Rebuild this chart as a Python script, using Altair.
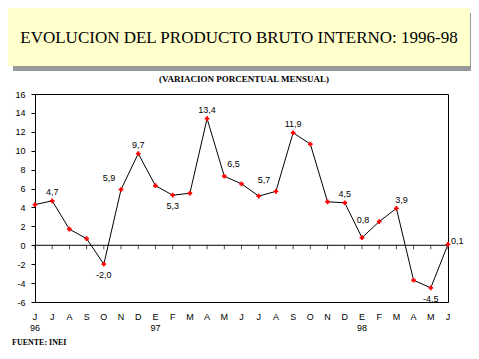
import altair as alt
import pandas as pd

months = ["J", "J", "A", "S", "O", "N", "D", "E", "F", "M", "A", "M", "J",
          "J", "A", "S", "O", "N", "D", "E", "F", "M", "A", "M", "J"]
years = ["96", "", "", "", "", "", "", "97", "", "", "", "", "",
         "", "", "", "", "", "", "98", "", "", "", "", ""]
values = [4.3, 4.7, 1.7, 0.7, -2.0, 5.9, 9.7, 6.3, 5.3, 5.5, 13.4, 7.3, 6.5,
          5.2, 5.7, 11.9, 10.7, 4.6, 4.5, 0.8, 2.5, 3.9, -3.7, -4.5, 0.1]
labels = ["", "4,7", "", "", "-2,0", "5,9", "9,7", "", "5,3", "", "13,4", "", "6,5",
          "", "5,7", "11,9", "", "", "4,5", "0,8", "", "3,9", "", "-4,5", "0,1"]
placement = ["", "above", "", "", "below", "upleft", "above", "", "below", "", "above", "", "upleft_high",
             "", "upleft", "above", "", "", "above", "above_high", "", "aboveright", "", "below", "right"]
y_ticks = [-6, -4, -2, 0, 2, 4, 6, 8, 10, 12, 14, 16]

title = "EVOLUCION DEL PRODUCTO BRUTO INTERNO: 1996-98"
subtitle = "(VARIACION PORCENTUAL MENSUAL)"
source = "FUENTE: INEI"

df = pd.DataFrame({
    "i": list(range(len(values))),
    "month": months,
    "year": years,
    "value": values,
    "label": labels,
    "place": placement,
})

W, H = 413, 208
SANS = "Liberation Sans"
SERIF = "Liberation Serif"

xs = alt.Scale(domain=[0, 24], nice=False)
ys = alt.Scale(domain=[-6, 16], nice=False)

yaxis = alt.Axis(
    values=y_ticks, grid=False, title=None,
    domainColor="black", tickColor="black", tickSize=4,
    labelFont=SANS, labelFontSize=9, labelColor="black", labelPadding=6,
    labelOverlap=False, labelFlush=False, labelBound=False,
    labelExpr="'' + datum.value")


def Y(field):
    return alt.Y(field, scale=ys, axis=yaxis, title=None)


base = alt.Chart(df)
X = alt.X("i:Q", scale=xs, axis=None)

line = base.mark_line(color="black", strokeWidth=1).encode(x=X, y=Y("value:Q"))
pts = base.mark_point(shape="cross", filled=True, color="#FF0000", size=22, opacity=1).encode(
    x=X, y=Y("value:Q"))

zero = alt.Chart(alt.Data(values=[{"z": 0}])).mark_rule(color="black", strokeWidth=1).encode(
    y=Y("z:Q"))
ticks = base.mark_tick(orient="vertical", size=4, thickness=1, color="black", yOffset=2).encode(
    x=X, y=Y("zero:Q")).transform_calculate(zero="0")

offsets = {
    "above": dict(dx=0, dy=-9, align="center"),
    "below": dict(dx=0, dy=11, align="center"),
    "upleft": dict(dx=-12, dy=-11, align="center"),
    "upleft_high": dict(dx=-8, dy=-20, align="center"),
    "above_high": dict(dx=1, dy=-18, align="center"),
    "aboveright": dict(dx=5, dy=-8, align="center"),
    "right": dict(dx=3, dy=-3, align="left"),
}
label_layers = []
for name, o in offsets.items():
    label_layers.append(
        base.transform_filter(alt.datum.place == name).mark_text(
            font=SANS, fontSize=9, color="black", baseline="middle", **o
        ).encode(x=X, y=Y("value:Q"), text="label:N")
    )

month_txt = base.mark_text(font=SANS, fontSize=9, color="black", baseline="middle").encode(
    x=X, y=alt.value(223), text="month:N")
year_txt = base.mark_text(font=SANS, fontSize=9, color="black", baseline="middle").encode(
    x=X, y=alt.value(234), text="year:N")

one = alt.Data(values=[{"t": title, "s": subtitle, "f": source}])
shadow = alt.Chart(one).mark_rect(color="#999999").encode(
    x=alt.value(-22), x2=alt.value(440), y=alt.value(-81), y2=alt.value(-23))
box = alt.Chart(one).mark_rect(color="#FFFFCC").encode(
    x=alt.value(-27), x2=alt.value(435), y=alt.value(-86), y2=alt.value(-28))
title_txt = alt.Chart(one).mark_text(font=SERIF, fontSize=17, color="black", baseline="middle").encode(
    x=alt.value(204), y=alt.value(-56), text="t:N")
sub_txt = alt.Chart(one).mark_text(font=SERIF, fontSize=9, fontWeight="bold", color="black",
                                   baseline="middle").encode(
    x=alt.value(209), y=alt.value(-15), text="s:N")
src_txt = alt.Chart(one).mark_text(font=SERIF, fontSize=8, fontWeight="bold", color="black",
                                   baseline="middle", align="left").encode(
    x=alt.value(-23), y=alt.value(249), text="f:N")

chart = alt.layer(
    shadow, box, title_txt, sub_txt, src_txt,
    zero, ticks, line, pts, *label_layers, month_txt, year_txt
).properties(
    width=W, height=H,
    autosize=alt.AutoSizeParams(type="none"),
    padding={"left": 27, "top": 86, "right": 23, "bottom": 49},
    background="white",
).configure_view(stroke="black", strokeWidth=1)

chart.save("out.html", embed_options={"renderer": "svg", "actions": False})
